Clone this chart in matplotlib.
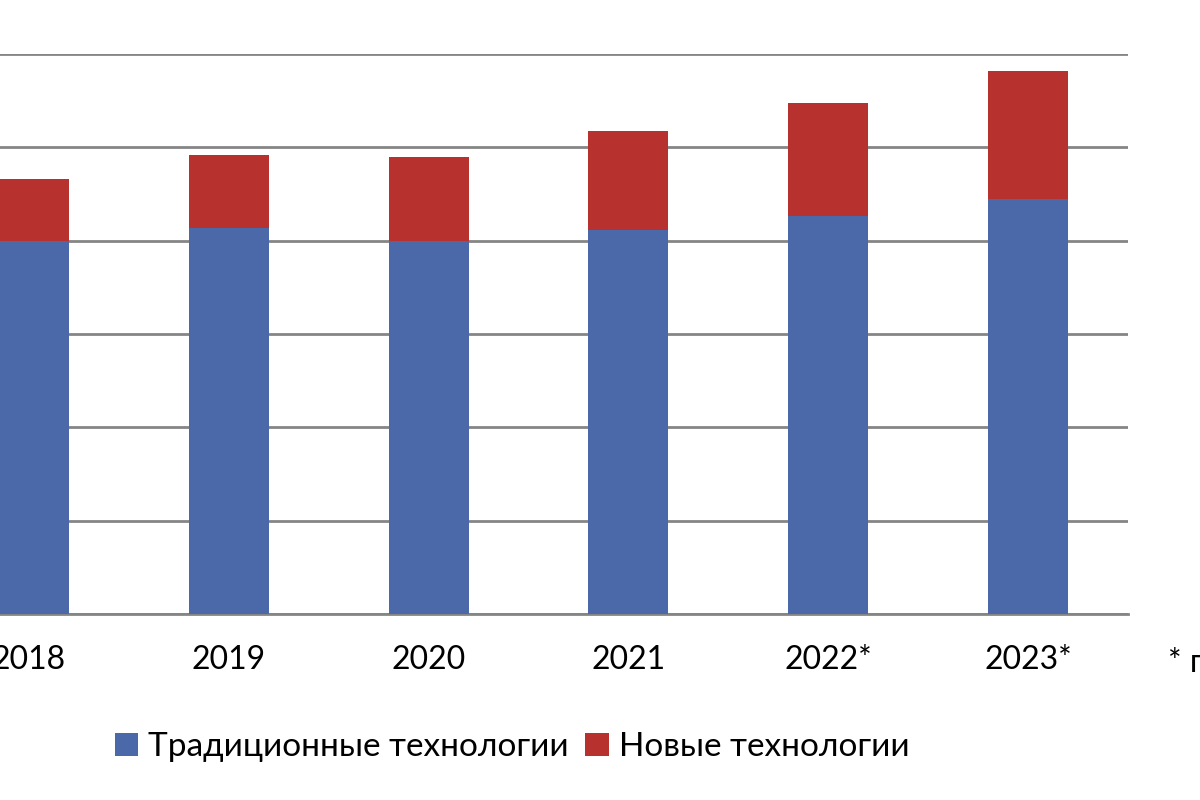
import matplotlib
matplotlib.use("Agg")
import matplotlib.pyplot as plt
import numpy as np

years = ["2018", "2019", "2020", "2021", "2022*", "2023*"]
traditional = [400, 414, 400, 411, 426, 445]
new_tech = [66, 78, 90, 107, 122, 137]
series_names = ["Традиционные технологии", "Новые технологии"]
yticks = [0, 100, 200, 300, 400, 500, 600]

plt.rcParams['font.family'] = ['Lato', 'DejaVu Sans']

fig = plt.figure(figsize=(12, 8), dpi=100)
ax = fig.add_axes([-71/1200, 1 - 614/800, 1199/1200, (614 - 54)/800])

x = np.arange(len(years))
blue = "#4B68A9"
red = "#B7312F"
b1 = ax.bar(x, traditional, width=0.4, color=blue, zorder=3, label=series_names[0])
b2 = ax.bar(x, new_tech, width=0.4, bottom=traditional, color=red, zorder=3, label=series_names[1])

ax.set_xlim(-0.5, len(years) - 0.5)
ax.set_ylim(0, 600)
ax.set_yticks(yticks)
ax.yaxis.grid(True, color="#858585", linewidth=2, zorder=0)
ax.tick_params(axis='y', left=False, labelleft=False)
ax.set_xticks(x)
ax.set_xticklabels(years, fontsize=23)
ax.tick_params(axis='x', length=0, pad=22)
for s in ["top", "left", "right"]:
    ax.spines[s].set_visible(False)
ax.spines["bottom"].set_color("#858585")
ax.spines["bottom"].set_linewidth(2)
ax.set_axisbelow(True)

fig.text(1168/1200, 1 - 662/800, "* прогноз", fontsize=23, va="center", ha="left")

fig.legend(handles=[b1, b2], labels=series_names, loc="center",
           bbox_to_anchor=(512/1200, 1 - 747/800), ncol=2, frameon=False,
           fontsize=24, handlelength=0.7, handleheight=0.7, handletextpad=0.3,
           columnspacing=0.5)

fig.savefig("out.png", dpi=100)
